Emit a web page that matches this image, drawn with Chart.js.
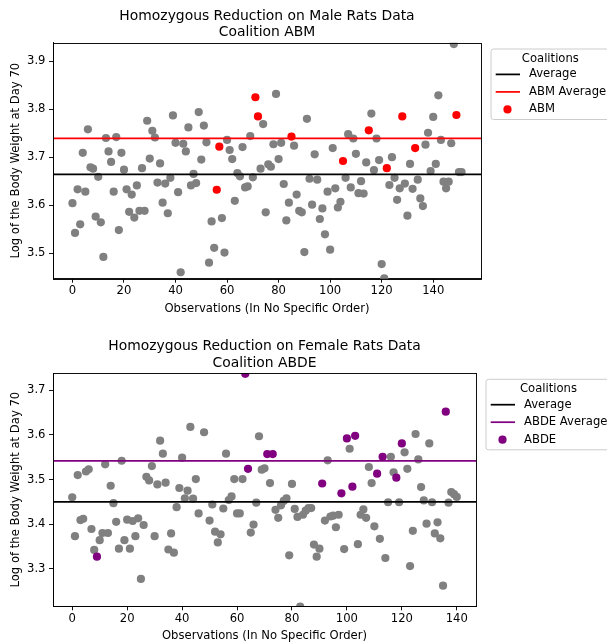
<!DOCTYPE html>
<html><head><meta charset="utf-8">
<script src="https://cdn.jsdelivr.net/npm/chart.js@4.4.1/dist/chart.umd.min.js"></script>
<style>
html,body{margin:0;padding:0;background:#fff;overflow:hidden;width:607px;height:643px;}
canvas{position:absolute;left:0;}
#c1{top:0;}
#c2{top:322px;}
</style></head><body>
<canvas id="c1" width="607" height="322"></canvas>
<canvas id="c2" width="607" height="321"></canvas>
<script>
// ---------- DATA ----------
const maleLogWeight = [
3.604,3.542,3.633,3.560,3.709,3.628,3.758,3.679,3.676,3.576,
3.659,3.564,3.492,3.740,3.712,3.690,3.628,3.742,3.548,3.709,
3.674,3.633,3.586,3.622,3.574,3.641,3.588,3.677,3.588,3.776,
3.697,3.755,3.741,3.647,3.687,3.605,3.645,3.583,3.657,3.787,
3.730,3.627,3.460,3.728,3.712,3.762,3.641,3.665,3.646,3.794,
3.695,3.766,3.731,3.480,3.566,3.511,3.632,3.722,3.573,3.501,
3.736,3.715,3.696,3.609,3.667,3.660,3.721,3.637,3.639,3.744,
3.658,3.825,3.785,3.676,3.769,3.585,3.685,3.680,3.727,3.832,
3.696,3.730,3.644,3.568,3.605,3.743,3.724,3.622,3.588,3.585,
3.502,3.780,3.655,3.601,3.706,3.653,3.571,3.593,3.539,3.628,
3.507,3.719,3.635,3.595,3.607,3.692,3.657,3.748,3.637,3.739,
3.707,3.625,3.650,3.624,3.689,3.756,3.791,3.673,3.739,3.694,
3.477,3.447,3.677,3.642,3.700,3.657,3.611,3.635,3.785,3.645,
3.578,3.686,3.634,3.719,3.653,3.614,3.598,3.726,3.751,3.671,
3.784,3.686,3.829,3.736,3.649,3.635,3.649,3.729,3.936,3.788,
3.669,3.669
];
const abmMembers = [56,57,71,72,85,105,115,122,128,133,149];
const maleAverage = 3.664;
const abmAverage = 3.739;

const femaleLogWeight = [
3.460,3.373,3.510,3.409,3.412,3.518,3.523,3.389,3.342,3.327,
3.364,3.380,3.534,3.380,3.486,3.447,3.405,3.345,3.542,3.364,
3.410,3.345,3.407,3.373,3.413,3.277,3.398,3.506,3.498,3.530,
3.373,3.489,3.587,3.558,3.493,3.343,3.379,3.336,3.438,3.481,
3.549,3.458,3.475,3.618,3.457,3.501,3.424,null,3.606,null,
3.408,3.444,3.383,3.359,3.377,3.435,3.558,3.454,3.462,3.501,
3.424,3.424,3.501,3.737,3.524,3.381,3.399,3.448,3.597,3.522,
3.525,3.557,3.492,3.557,3.432,3.414,3.442,3.452,3.458,3.330,
3.490,3.434,3.416,3.215,3.421,3.430,3.436,3.436,3.354,3.327,
3.345,3.491,3.408,3.543,3.417,3.419,3.393,3.421,3.469,3.344,
3.592,3.569,3.484,3.598,3.355,3.421,3.433,3.414,3.528,3.492,
3.395,3.513,3.367,3.551,3.324,3.449,3.551,3.516,3.504,3.449,
3.581,3.561,3.524,3.306,3.385,3.602,3.545,3.483,3.453,3.401,
3.581,3.449,3.379,3.404,3.368,3.262,3.652,3.448,3.472,3.467,
3.461
];
const abdeMembers = [9,63,64,71,73,91,98,100,102,103,111,113,118,120,136];
const femaleAverage = 3.450;
const abdeAverage = 3.542;

const xTickValues = [0,20,40,60,80,100,120,140];
const maleYTicks = [3.5,3.6,3.7,3.8,3.9];
const femaleYTicks = [3.3,3.4,3.5,3.6,3.7];
const maleTitle = ['Homozygous Reduction on Male Rats Data','Coalition ABM'];
const femaleTitle = ['Homozygous Reduction on Female Rats Data','Coalition ABDE'];
const xAxisLabel = 'Observations (In No Specific Order)';
const yAxisLabel = 'Log of the Body Weight at Day 70';
const legendTitle = 'Coalitions';

// ---------- RENDERING ----------
Chart.defaults.font.family = '"DejaVu Sans", sans-serif';
Chart.defaults.color = '#000';
const FS = 11.6;

const decorPlugin = {
  id: 'decor',
  afterDraw(chart, args, opts) {
    const ctx = chart.ctx, a = chart.chartArea;
    ctx.save();
    // spines
    ctx.strokeStyle = '#000'; ctx.lineWidth = 0.93;
    const l = Math.round(a.left)+0.5, t = Math.round(a.top)+0.5;
    ctx.strokeRect(l, t, Math.round(a.right)-Math.round(a.left), Math.round(a.bottom)-Math.round(a.top));
    // title
    ctx.fillStyle = '#000';
    ctx.font = '13.9px "DejaVu Sans"';
    ctx.textAlign = 'center'; ctx.textBaseline = 'alphabetic';
    const cx = (a.left + a.right)/2;
    const lines = opts.title;
    lines.forEach((s,i)=>{ ctx.fillText(s, cx, a.top - 6.4 - 16.7*(lines.length-1-i)); });
    // legend
    ctx.font = FS + 'px "DejaVu Sans"';
    const entries = chart.data.datasets.filter(d => d.legendKind);
    const maxW = Math.max(ctx.measureText(opts.legendTitle).width, ...entries.map(e=>ctx.measureText(e.label).width));
    const L = a.right + 10, T = a.top + 6.3, W = 41.5 + maxW, H = 70.5, r = 2.5;
    ctx.beginPath();
    ctx.moveTo(L+r, T); ctx.lineTo(L+W-r, T); ctx.arcTo(L+W, T, L+W, T+r, r);
    ctx.lineTo(L+W, T+H-r); ctx.arcTo(L+W, T+H, L+W-r, T+H, r);
    ctx.lineTo(L+r, T+H); ctx.arcTo(L, T+H, L, T+H-r, r);
    ctx.lineTo(L, T+r); ctx.arcTo(L, T, L+r, T, r); ctx.closePath();
    ctx.fillStyle = 'rgba(255,255,255,0.8)'; ctx.fill();
    ctx.strokeStyle = '#cccccc'; ctx.lineWidth = 1; ctx.stroke();
    ctx.fillStyle = '#000'; ctx.textAlign = 'center'; ctx.textBaseline = 'middle';
    ctx.fillText(opts.legendTitle, L + W/2, T + 9.5);
    ctx.textAlign = 'left';
    entries.forEach((e,i) => {
      const y = T + 25.4 + 17.5*i;
      if (e.legendKind === 'line') {
        ctx.strokeStyle = e.borderColor; ctx.lineWidth = 1.74;
        ctx.beginPath(); ctx.moveTo(L+4.7, y); ctx.lineTo(L+29, y); ctx.stroke();
      } else {
        ctx.fillStyle = e.backgroundColor;
        ctx.beginPath(); ctx.arc(L+16.5, y, 4.1, 0, Math.PI*2); ctx.fill();
      }
      ctx.fillStyle = '#000';
      ctx.fillText(e.label, L+38, y);
    });
    ctx.restore();
  }
};

function makeChart(id, cfg) {
  const n = cfg.values.length;
  const xMin = -0.05*(n-1), xMax = (n-1)*1.05;
  const members = new Set(cfg.members);
  const others = [], coal = [];
  cfg.values.forEach((v,i) => {
    if (v === null) return;
    (members.has(i) ? coal : others).push({x:i, y:v});
  });
  const tickGrid = {display:true, drawOnChartArea:false, drawTicks:true, tickLength:4, color:'#000', lineWidth:0.93};
  const border = {display:true, color:'#000', width:0.93};
  return new Chart(document.getElementById(id), {
    type: 'scatter',
    data: {datasets: [
      {type:'line', label:'Average', legendKind:'line', data:[{x:xMin,y:cfg.avg},{x:xMax,y:cfg.avg}],
        borderColor:'#000000', borderWidth:1.74, pointRadius:0, fill:false, tension:0},
      {type:'line', label:cfg.coalName+' Average', legendKind:'line', data:[{x:xMin,y:cfg.coalAvg},{x:xMax,y:cfg.coalAvg}],
        borderColor:cfg.color, borderWidth:1.74, pointRadius:0, fill:false, tension:0},
      {type:'scatter', label:cfg.coalName, legendKind:'point', data:coal, backgroundColor:cfg.color,
        borderWidth:0, pointRadius:4.1, pointHoverRadius:4.1, clip:0},
      {type:'scatter', label:'Observations', data:others, backgroundColor:'#808080',
        borderWidth:0, pointRadius:4.1, pointHoverRadius:4.1, clip:0}
    ]},
    options: {
      responsive:false, animation:false, events:[],
      layout:{padding:{left:0, top:cfg.top, right:cfg.right, bottom:0}},
      plugins:{legend:{display:false}, title:{display:false}, tooltip:{enabled:false},
        decor:{title:cfg.title, legendTitle:legendTitle}},
      scales:{
        x:{type:'linear', min:xMin, max:xMax,
          afterBuildTicks:s => { s.ticks = xTickValues.map(v => ({value:v})); },
          afterFit:s => { s.height = cfg.xAxisH; },
          ticks:{font:{size:FS}, color:'#000', padding:1.5, maxRotation:0, callback:v => String(v)},
          grid:tickGrid, border:border,
          title:{display:true, text:xAxisLabel, font:{size:FS}, color:'#000', padding:{top:0,bottom:cfg.xTitlePad}}},
        y:{type:'linear', min:cfg.yMin, max:cfg.yMax,
          afterBuildTicks:s => { s.ticks = cfg.yTicks.map(v => ({value:v})); },
          afterFit:s => { s.width = 53; },
          ticks:{font:{size:FS}, color:'#000', padding:3.5, callback:v => Number(v).toFixed(1)},
          grid:tickGrid, border:border,
          title:{display:true, text:yAxisLabel, font:{size:FS}, color:'#000', padding:{top:9,bottom:0}}}
      }
    },
    plugins:[decorPlugin]
  });
}

makeChart('c1', {values:maleLogWeight, members:abmMembers, avg:maleAverage, coalAvg:abmAverage,
  coalName:'ABM', color:'#ff0000', yMin:3.4465, yMax:3.9388, yTicks:maleYTicks, title:maleTitle,
  top:42.7, right:126, xAxisH:322-278.7, xTitlePad:6.3});
makeChart('c2', {values:femaleLogWeight, members:abdeMembers, avg:femaleAverage, coalAvg:abdeAverage,
  coalName:'ABDE', color:'#800080', yMin:3.2157, yMax:3.7388, yTicks:femaleYTicks, title:femaleTitle,
  top:51, right:131, xAxisH:321-284.3, xTitlePad:0});
</script>
</body></html>
